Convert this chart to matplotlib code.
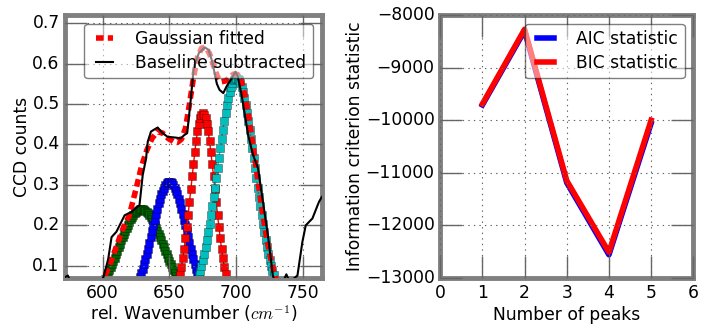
import matplotlib
matplotlib.use("Agg")
import matplotlib.pyplot as plt
import numpy as np

plt.style.use("classic")

# Baseline subtracted spectrum
wn = [572, 574, 576, 580, 590, 598, 601, 604.2, 606.7, 610.3, 616.5, 621.4, 627.6,
      630, 632.5, 633.8, 636.2, 641.2, 644.9, 648.6, 654.7, 658.4, 661, 663.3,
      665.8, 668.2, 672, 676.5, 679.3, 682, 685.5, 687.5, 690.3, 693, 696,
      699.4, 701, 704, 708.9, 712.6, 716.3, 720, 723.7, 726.2, 727.4, 730,
      735, 737.5, 740, 745.8, 749.5, 752, 757, 761.9, 764]
counts = [0.072, 0.076, 0.06, 0.04, 0.03, 0.05, 0.076, 0.117, 0.171, 0.184, 0.225, 0.233, 0.25,
          0.324, 0.365, 0.407, 0.432, 0.442, 0.428, 0.419, 0.417, 0.415, 0.423, 0.428,
          0.506, 0.589, 0.626, 0.64, 0.634, 0.605, 0.55, 0.535, 0.527, 0.545, 0.56,
          0.58, 0.57, 0.523, 0.423, 0.374, 0.341, 0.258, 0.175, 0.109, 0.076, 0.05,
          0.06, 0.079, 0.06, 0.076, 0.159, 0.2, 0.217, 0.258, 0.27]

# Total Gaussian fit
fit_wn = [598, 601, 605, 610, 615, 620, 625, 629, 633, 637, 641, 645, 649, 653, 656,
          659, 662, 665, 668, 671, 674, 677, 680, 683, 686, 689, 692, 695, 698, 701,
          704, 707, 710, 713, 716, 719, 722, 725, 728, 731]
fit_val = [0.05, 0.07, 0.10, 0.145, 0.19, 0.225, 0.29, 0.345, 0.385, 0.415, 0.432, 0.428,
           0.415, 0.407, 0.405, 0.413, 0.44, 0.5, 0.565, 0.615, 0.638, 0.64, 0.625, 0.595,
           0.567, 0.555, 0.557, 0.566, 0.574, 0.573, 0.555, 0.515, 0.455, 0.388, 0.315,
           0.245, 0.182, 0.129, 0.087, 0.056]

# Gaussian components: centre, amplitude, width
centres = [629, 650, 675, 700]
amps = [0.24, 0.308, 0.477, 0.564]
sigmas = [17.0, 12.9, 9.0, 14.0]
comp_colors = ["#006400", "b", "r", "c"]

# Information criteria
n_peaks = [1, 2, 3, 4, 5]
aic = [-9710, -8300, -11190, -12560, -10060]
bic = [-9690, -8270, -11150, -12510, -10000]

x = np.arange(572, 764, 1.0)
comps = [a * np.exp(-(x - c) ** 2 / (2 * s ** 2)) for c, a, s in zip(centres, amps, sigmas)]

fig = plt.figure(figsize=(7.01, 3.27), dpi=100, facecolor="white")
ax1 = fig.add_axes([0.093, 0.150, 0.366, 0.804])
ax2 = fig.add_axes([0.628, 0.150, 0.361, 0.804])

fs = 12.3

for y, col in zip(comps, comp_colors):
    ax1.plot(x, y, "s-", color=col, mfc=col, mec=(0, 0, 0, 0.45), mew=0.5, ms=5.5, lw=1, zorder=2)
ax1.plot(fit_wn, fit_val, "--", color="r", lw=4, dashes=(5.5, 3.0), label="Gaussian fitted", zorder=3)
ax1.plot(wn, counts, "k-", lw=1.5, label="Baseline subtracted", zorder=4)

ax1.set_xlim(572, 764)
ax1.set_ylim(0.07, 0.72)
ax1.set_xticks([600, 650, 700, 750])
ax1.set_yticks([0.1, 0.2, 0.3, 0.4, 0.5, 0.6, 0.7])
ax1.set_xlabel(r"rel. Wavenumber ($cm^{-1}$)", fontsize=fs, labelpad=1)
ax1.set_ylabel("CCD counts", fontsize=fs, labelpad=1)

ax2.plot(n_peaks, aic, "b-", lw=4, label="AIC statistic")
ax2.plot(n_peaks, bic, "r-", lw=4, label="BIC statistic")
ax2.set_xlim(0, 6)
ax2.set_ylim(-13000, -8000)
ax2.set_xlabel("Number of peaks", fontsize=fs, labelpad=3)
ax2.set_ylabel("Information criterion statistic", fontsize=fs, labelpad=1)

for ax in (ax1, ax2):
    ax.legend(loc="upper right", fontsize=fs, fancybox=True, framealpha=0.5,
              handlelength=1.6, handletextpad=1.0, borderpad=0.4,
              labelspacing=0.3, borderaxespad=0.5)
    ax.grid(True, linestyle=":", color="0.4", lw=0.8)
    for sp in ax.spines.values():
        sp.set_linewidth(3.5)
        sp.set_color("0.5")
    ax.tick_params(which="major", direction="in", length=16, width=1, color="0.4",
                   labelsize=fs, pad=4)
    ax.tick_params(which="minor", length=0)

fig.savefig("out.png", dpi=100, facecolor="white")
